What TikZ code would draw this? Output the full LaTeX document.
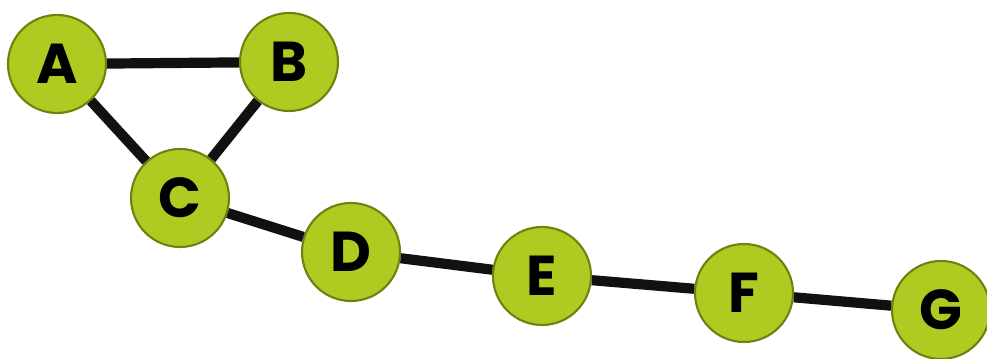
\documentclass[tikz,border=0pt]{standalone}
\usepackage{fontspec}
\setmainfont{Poppins}
\definecolor{lime}{HTML}{AFCB22}
\definecolor{limedark}{HTML}{6F820F}
\definecolor{edgeblack}{HTML}{111111}

\begin{document}
\begin{tikzpicture}[
  ball/.style={circle,minimum size=0.98cm,inner sep=0pt,fill=lime,draw=limedark,line width=0.6pt,
    font=\fontsize{16}{16}\selectfont\bfseries},
  link/.style={edgeblack,line width=2.9pt}]
\useasboundingbox (0,0) rectangle (9.87,3.59);
\node[ball] (A) at (0.57,2.95) {A} ;
\node[ball] (B) at (2.89,2.97) {B} ;
\node[ball] (C) at (1.80,1.61) {C} ;
\node[ball] (D) at (3.51,1.07) {D} ;
\node[ball] (E) at (5.42,0.83) {E} ;
\node[ball] (F) at (7.44,0.66) {F} ;
\node[ball] (G) at (9.41,0.49) {G} ;
% edges stop at the node borders
\draw[link] (A) -- (B) ;
\draw[link] (A) -- (C) ;
\draw[link] (B) -- (C) ;
\draw[link] (C) -- (D) ;
\draw[link] (D) -- (E) ;
\draw[link] (E) -- (F) ;
\draw[link] (F) -- (G) ;
\end{tikzpicture}
\end{document}
